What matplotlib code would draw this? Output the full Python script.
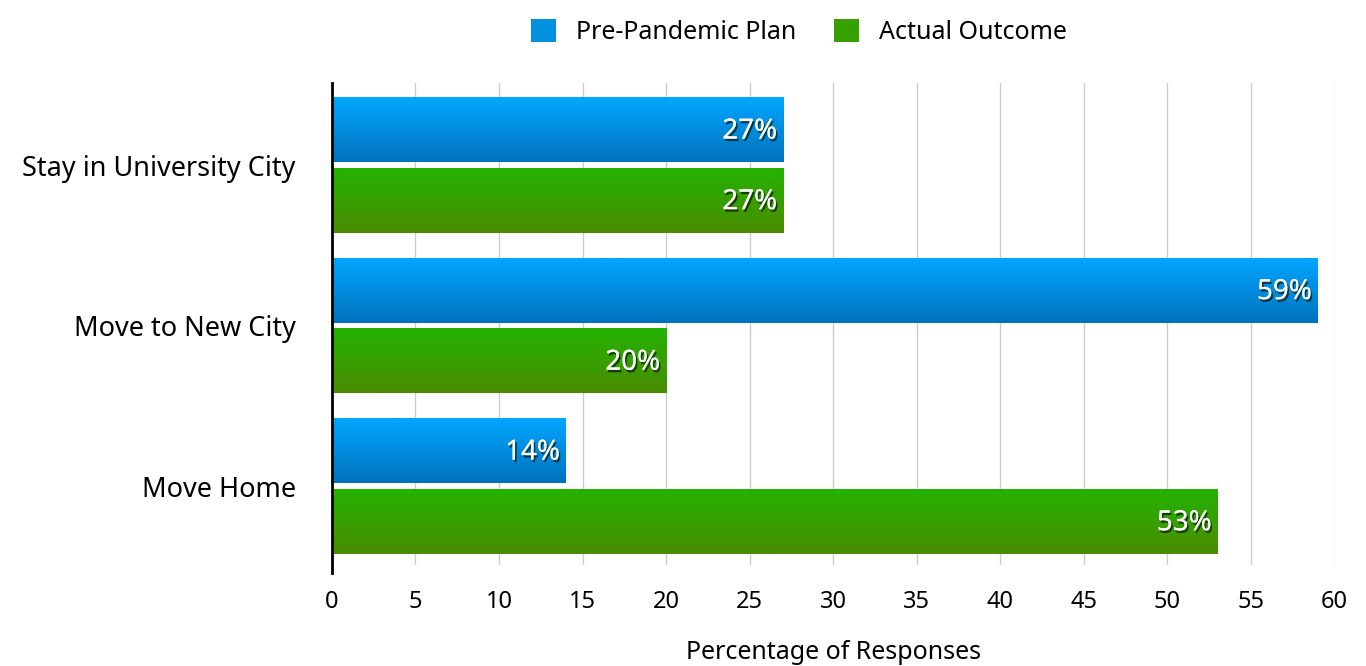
import matplotlib
matplotlib.use("Agg")
import matplotlib.pyplot as plt
import matplotlib.patheffects as pe
from matplotlib.patches import Patch
import numpy as np

plt.rcParams['font.family'] = ['Noto Sans', 'DejaVu Sans']

categories = ['Stay in University City', 'Move to New City', 'Move Home']
plan = [27, 59, 14]
actual = [27, 20, 53]
series_names = ['Pre-Pandemic Plan', 'Actual Outcome']
xticks = list(range(0, 61, 5))

# top / bottom colours of each gradient fill
blue_grad = ('#00a6ff', '#0072bd')
green_grad = ('#24b300', '#4a8c00')

fig = plt.figure(figsize=(13.66, 6.66), dpi=100)
ax = fig.add_axes([0.243, 0.1517, 0.734, 0.7237])

bar_h = 0.4
offset = 0.22


def gradient_bar(ax, y, value, colors):
    top = np.array(matplotlib.colors.to_rgb(colors[0]))
    bot = np.array(matplotlib.colors.to_rgb(colors[1]))
    t = np.linspace(0, 1, 64)[:, None]
    img = (top * (1 - t) + bot * t)[:, None, :]
    ax.imshow(img, extent=(0, value, y + bar_h / 2, y - bar_h / 2),
              origin='upper', aspect='auto', interpolation='bilinear', zorder=2)


label_fx = [pe.withSimplePatchShadow(offset=(1.2, -1.8), shadow_rgbFace='#0a1a10', alpha=0.75),
            pe.Normal()]

for i, (p, a) in enumerate(zip(plan, actual)):
    for y, v, grad in ((i - offset, p, blue_grad), (i + offset, a, green_grad)):
        gradient_bar(ax, y, v, grad)
        ax.text(v - 0.35, y + 0.01, f'{v}%', ha='right', va='center', color='white',
                fontsize=20, path_effects=label_fx, zorder=3)

ax.set_xlim(0, 60)
ax.set_ylim(2.49, -0.5125)
ax.set_xticks(xticks)
ax.set_yticks(range(len(categories)))
ax.set_yticklabels(categories)
ax.tick_params(axis='y', length=0, pad=26, labelsize=19.5)
ax.tick_params(axis='x', length=0, pad=18, labelsize=17)
ax.grid(axis='x', color='#cccccc', linewidth=1, zorder=0)
ax.set_axisbelow(True)
for side in ('top', 'right', 'bottom'):
    ax.spines[side].set_visible(False)
ax.spines['left'].set_linewidth(2)
ax.spines['left'].set_bounds(2.54, -0.5125)
ax.set_xlabel('Percentage of Responses', fontsize=18, labelpad=19)

handles = [Patch(facecolor='#0090e0', edgecolor='none'),
           Patch(facecolor='#35a000', edgecolor='none')]
fig.legend(handles, series_names, loc='upper center', bbox_to_anchor=(0.585, 1.005),
           ncol=2, frameon=False, fontsize=18, handlelength=1.0, handleheight=1.0,
           columnspacing=1.5, handletextpad=0.8)

fig.savefig('out.png', dpi=100)
